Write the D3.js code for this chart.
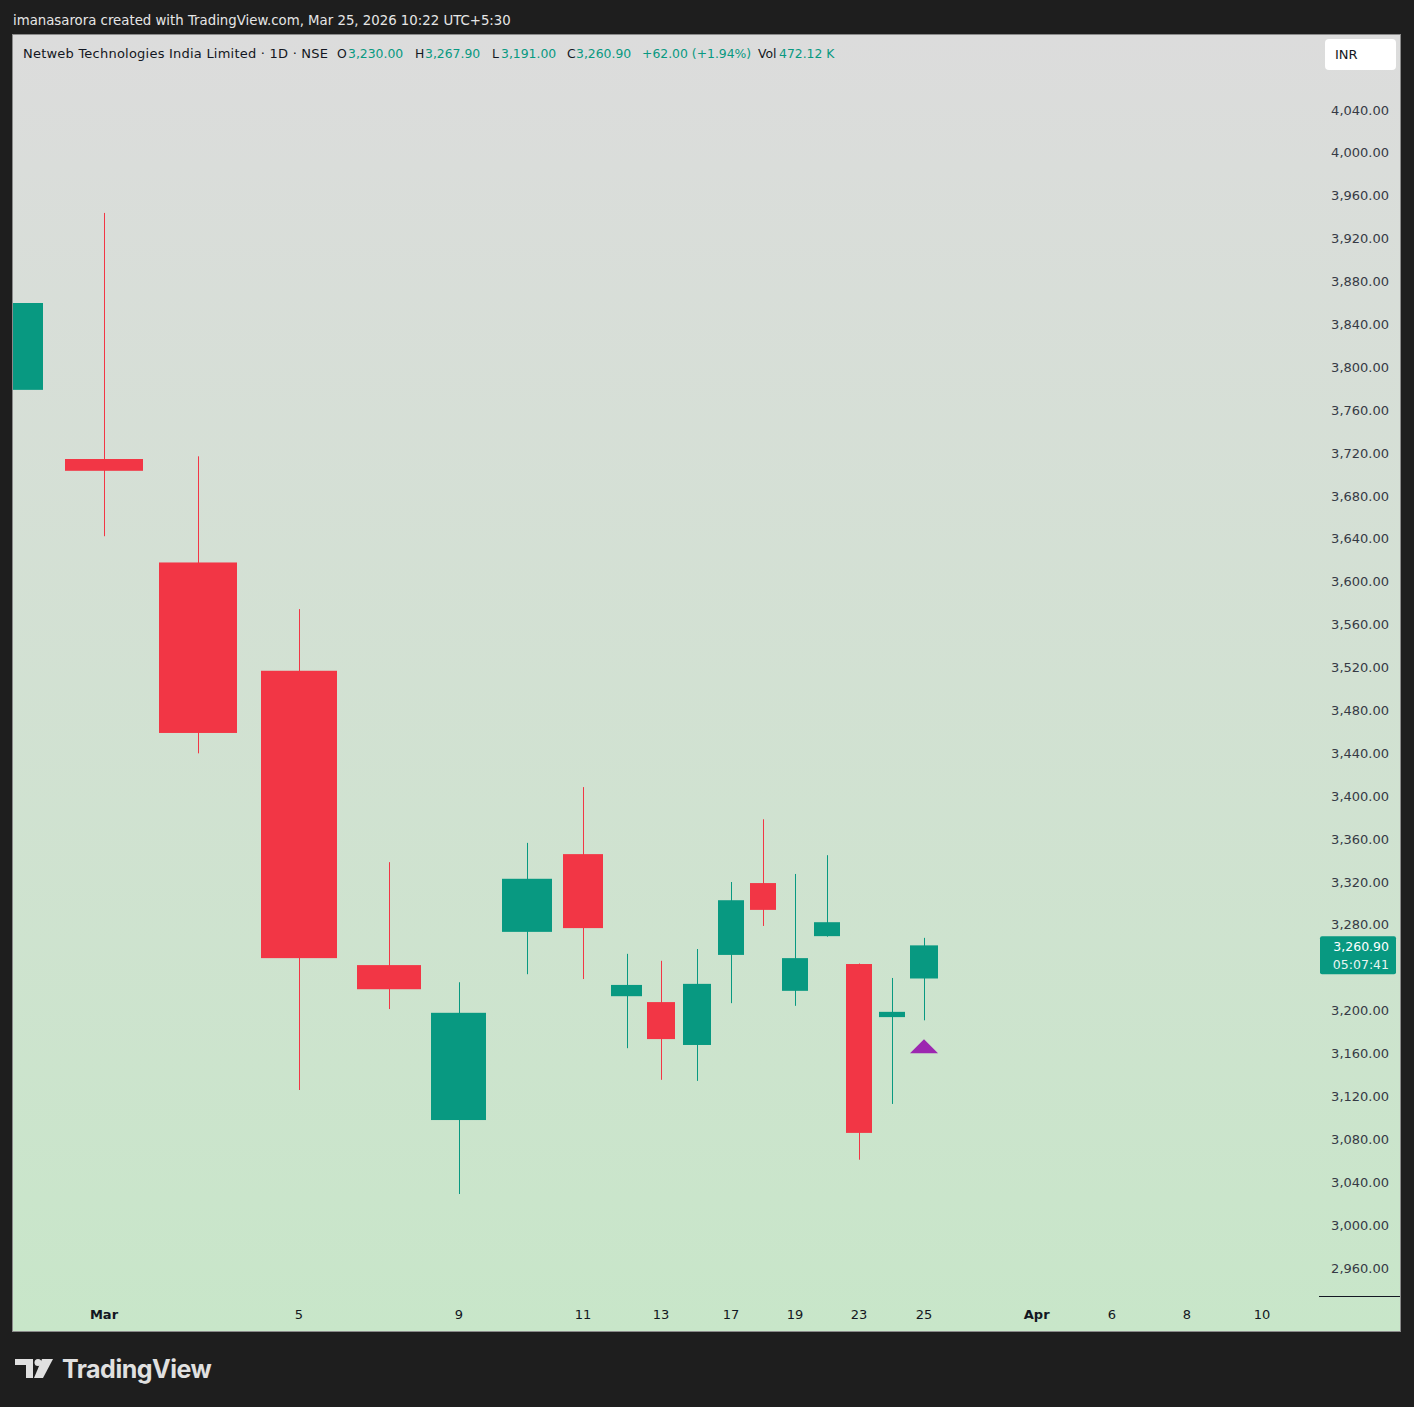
<!DOCTYPE html>
<html>
<head>
<meta charset="utf-8">
<style>
body { margin: 0; background: #1e1e1e; }
svg text { font-family: "DejaVu Sans", sans-serif; }
</style>
<script src="https://cdn.jsdelivr.net/npm/d3@7"></script>
</head>
<body>
<svg width="1414" height="1407"></svg>
<script>

// daily candles, Feb 27 .. Mar 25 2026 (NSE: NETWEB)
var dates  = ["2026-02-27","2026-03-02","2026-03-04","2026-03-05","2026-03-06","2026-03-09","2026-03-10",
              "2026-03-11","2026-03-12","2026-03-13","2026-03-16","2026-03-17","2026-03-18","2026-03-19",
              "2026-03-20","2026-03-23","2026-03-24","2026-03-25"];
var opens  = [3779, 3714.5, 3618, 3517, 3242.5, 3098, 3273.5, 3346, 3213.5, 3208, 3168, 3252, 3319, 3218.5, 3269.5, 3243.5, 3194, 3230];
var highs  = [3880, 3944, 3717, 3574.5, 3338.5, 3226.5, 3356.5, 3408.5, 3253, 3246.5, 3257.5, 3320, 3378.5, 3327.5, 3345, 3244, 3230.5, 3267.9];
var lows   = [3760, 3642.5, 3440, 3126, 3201.5, 3029, 3234, 3229.5, 3165, 3135.5, 3134.5, 3207, 3279, 3204.5, 3269, 3061, 3113, 3191];
var closes = [3860, 3703.5, 3459, 3249, 3220, 3198, 3323, 3277, 3224, 3173.5, 3225, 3303, 3294, 3249, 3282.5, 3086, 3198.9, 3260.9];

var priceTicks = d3.range(2960, 4041, 40);
// time-axis labels keyed by bar index (future bars skip Mar 26, Mar 31, Apr 3 holidays)
var timeLabels = ["Mar", "5", "9", "11", "13", "17", "19", "23", "25", "Apr", "6", "8", "10"];
var timeIndex  = [0, 2, 4, 6, 8, 10, 12, 14, 16, 19, 21, 23, 25];
var timeBold   = ["Mar", "Apr"];

var legendTitle = "Netweb Technologies India Limited · 1D · NSE";
var lastClose = 3260.9, change = 62.00, changePct = 1.94, volume = "472.12 K", countdown = "05:07:41";

var svg = d3.select("svg");
var pane = {left: 13, top: 35, right: 1318, bottom: 1296};
var frameRight = 1400, frameBottom = 1331;
var up = "#089981", down = "#f23645";
var fmt = d3.format(",.2f");

// bar-index -> pixel; the screenshot's bar spacing is uneven, so use a piecewise scale
var x = d3.scaleLinear()
    .domain([-1, 0, 1, 2, 3, 4, 5, 6, 7, 8, 9, 10, 11, 12, 13, 14, 15, 16, 25])
    .range([2, 104, 198, 299, 389, 459, 527, 583, 627, 661, 697, 731, 763, 795, 827, 859, 892, 924, 1262]);
var y = d3.scaleLinear().domain([2960, 4040]).range([1268, 110]);

var defs = svg.append("defs");
var grad = defs.append("linearGradient").attr("id", "bg").attr("x1", 0).attr("y1", 0).attr("x2", 0).attr("y2", 1);
grad.append("stop").attr("offset", "0%").attr("stop-color", "#dcdcdc");
grad.append("stop").attr("offset", "100%").attr("stop-color", "#c8e6c9");
defs.append("clipPath").attr("id", "clip").append("rect")
    .attr("x", pane.left).attr("y", pane.top)
    .attr("width", pane.right - pane.left).attr("height", pane.bottom - pane.top);

// header line
svg.append("text").attr("x", 13).attr("y", 25)
    .attr("fill", "#e6e6e6").attr("font-size", 13.3)
    .text("imanasarora created with TradingView.com, Mar 25, 2026 10:22 UTC+5:30");

// chart frame
svg.append("rect").attr("x", pane.left - 0.5).attr("y", pane.top - 0.5)
    .attr("width", frameRight - pane.left + 1).attr("height", frameBottom - pane.top + 1)
    .attr("fill", "url(#bg)").attr("stroke", "#8a8a8a");

// candles
var bars = dates.map(function(d, i) {
  return {date: d, i: i - 1, o: opens[i], h: highs[i], l: lows[i], c: closes[i]};
});

var g = svg.append("g").attr("clip-path", "url(#clip)");
var candle = g.selectAll("g.candle").data(bars).enter().append("g")
    .attr("fill", function(d) { return d.c >= d.o ? up : down; })
    .attr("stroke", function(d) { return d.c >= d.o ? up : down; });

candle.append("line")
    .attr("x1", function(d) { return Math.round(x(d.i)) + 0.5; })
    .attr("x2", function(d) { return Math.round(x(d.i)) + 0.5; })
    .attr("y1", function(d) { return y(d.h); })
    .attr("y2", function(d) { return y(d.l); })
    .attr("stroke-width", 1);

function barW(i) { return 0.8 * (x(i + 0.5) - x(i - 0.5)); }
candle.append("rect")
    .attr("stroke", "none")
    .attr("x", function(d) { return Math.round(x(d.i) - barW(d.i) / 2); })
    .attr("width", function(d) { return Math.round(barW(d.i)); })
    .attr("y", function(d) { return y(Math.max(d.o, d.c)); })
    .attr("height", function(d) { return Math.max(2, Math.abs(y(d.o) - y(d.c))); });

// event marker below the last bar
var last = bars[bars.length - 1];
var tx = x(last.i), ty = y(last.l) + 19;
g.append("path")
    .attr("d", "M" + (tx - 14) + "," + (ty + 14) + "L" + tx + "," + ty + "L" + (tx + 14) + "," + (ty + 14) + "Z")
    .attr("fill", "#9c27b0");

// price axis labels (those hidden by the last-price badge are skipped)
var ly = y(lastClose);
svg.append("g").selectAll("text")
    .data(priceTicks.filter(function(d) { return y(d) < ly - 16 || y(d) > ly + 36; }))
    .enter().append("text")
    .attr("x", 1389).attr("y", function(d) { return y(d); })
    .attr("dy", "0.35em").attr("text-anchor", "end")
    .attr("font-size", 13).attr("fill", "#363a45")
    .text(function(d) { return fmt(d); });

// separator under price axis
svg.append("line").attr("x1", 1319).attr("x2", frameRight).attr("y1", pane.bottom + 0.5).attr("y2", pane.bottom + 0.5)
    .attr("stroke", "#131722");

// time axis labels
svg.append("g").selectAll("text").data(timeLabels).enter().append("text")
    .attr("x", function(d, k) { return x(timeIndex[k]); })
    .attr("y", 1314).attr("dy", "0.35em").attr("text-anchor", "middle")
    .attr("font-size", 13).attr("fill", "#131722")
    .attr("font-weight", function(d) { return timeBold.indexOf(d) >= 0 ? "bold" : "normal"; })
    .text(function(d) { return d; });

// last price label
svg.append("rect").attr("x", 1320).attr("y", ly - 9).attr("width", 76).attr("height", 38)
    .attr("rx", 2).attr("fill", up);
svg.append("text").attr("x", 1389).attr("y", ly + 1).attr("dy", "0.35em").attr("text-anchor", "end")
    .attr("font-size", 12.5).attr("fill", "#ffffff").text(fmt(lastClose));
svg.append("text").attr("x", 1389).attr("y", ly + 19).attr("dy", "0.35em").attr("text-anchor", "end")
    .attr("font-size", 12.5).attr("fill", "#e8f5f1").text(countdown);

// currency badge
svg.append("rect").attr("x", 1325).attr("y", 39).attr("width", 71).attr("height", 31)
    .attr("rx", 4).attr("fill", "#ffffff");
svg.append("text").attr("x", 1335).attr("y", 54).attr("dy", "0.35em")
    .attr("font-size", 13).attr("fill", "#131722").text("INR");

// legend
var legend = svg.append("text").attr("y", 54).attr("dy", "0.35em").attr("font-size", 12.4);
var parts = [
  [23, legendTitle, "#131722", 305],
  [337, "O", "#131722"], [348, fmt(last.o), up],
  [415, "H", "#131722"], [425, fmt(last.h), up],
  [492, "L", "#131722"], [501, fmt(last.l), up],
  [567, "C", "#131722"], [576, fmt(last.c), up],
  [642, "+" + fmt(change) + " (+" + changePct.toFixed(2) + "%)", up],
  [758, "Vol", "#131722"], [779, volume, up]
];
parts.forEach(function(p) {
  var t = legend.append("tspan").attr("x", p[0]).attr("fill", p[2]).text(p[1]);
  if (p[3]) t.attr("font-size", 13).attr("textLength", p[3]);
});

// TradingView logo
var logo = svg.append("g").attr("fill", "#e0e0e0");
logo.append("path").attr("d", "M15,1359H33V1378H26V1365H15Z");
logo.append("circle").attr("cx", 38).attr("cy", 1362.5).attr("r", 3.5);
logo.append("path").attr("d", "M42,1359H53L43,1378H34Z");
logo.append("text").attr("x", 62).attr("y", 1378)
    .attr("font-size", 25).attr("font-weight", "bold")
    .style("font-family", "Inter, 'Open Sans', sans-serif").attr("letter-spacing", -0.5)
    .text("TradingView");

</script>
</body>
</html>
